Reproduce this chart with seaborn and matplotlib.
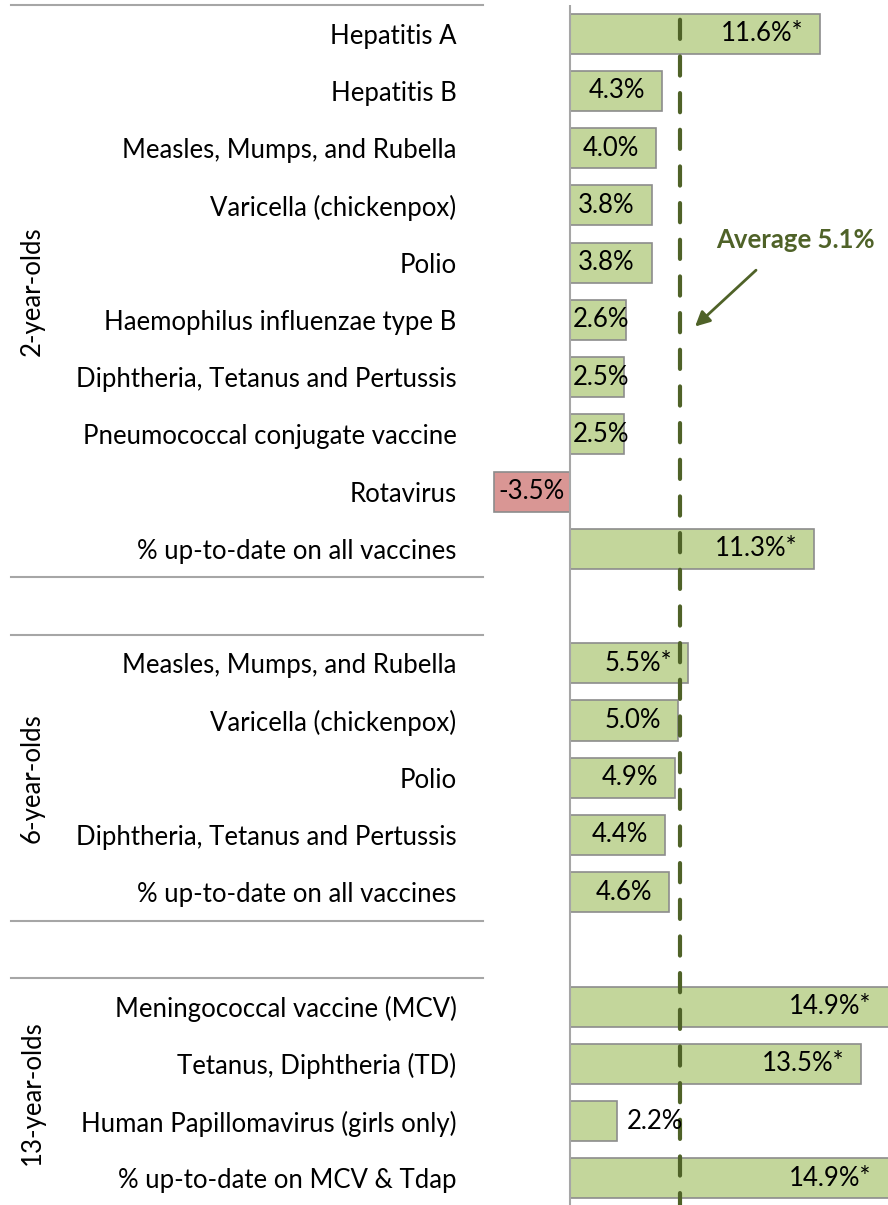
import numpy as np
import pandas as pd
import matplotlib
matplotlib.use("Agg")
import matplotlib.pyplot as plt
import matplotlib.transforms as mtransforms
import seaborn as sns

# --- data ---
groups = ["2-year-olds", "6-year-olds", "13-year-olds"]
vaccines_2yr = ["Hepatitis A", "Hepatitis B", "Measles, Mumps, and Rubella",
                "Varicella (chickenpox)", "Polio", "Haemophilus influenzae type B",
                "Diphtheria, Tetanus and Pertussis", "Pneumococcal conjugate vaccine",
                "Rotavirus", "% up-to-date on all vaccines"]
change_2yr = [11.6, 4.3, 4.0, 3.8, 3.8, 2.6, 2.5, 2.5, -3.5, 11.3]
signif_2yr = [True, False, False, False, False, False, False, False, False, True]

vaccines_6yr = ["Measles, Mumps, and Rubella", "Varicella (chickenpox)", "Polio",
                "Diphtheria, Tetanus and Pertussis", "% up-to-date on all vaccines"]
change_6yr = [5.5, 5.0, 4.9, 4.4, 4.6]
signif_6yr = [True, False, False, False, False]

vaccines_13yr = ["Meningococcal vaccine (MCV)", "Tetanus, Diphtheria (TD)",
                 "Human Papillomavirus (girls only)", "% up-to-date on MCV & Tdap"]
change_13yr = [14.9, 13.5, 2.2, 14.9]
signif_13yr = [True, True, False, True]

average = 5.1

plt.rcParams['font.family'] = ['Lato', 'DejaVu Sans']
plt.rcParams['font.size'] = 18.5

# build one row per bar, plus a blank spacer row between groups
rows = []
for g, names, vals, sig in [(groups[0], vaccines_2yr, change_2yr, signif_2yr),
                            (groups[1], vaccines_6yr, change_6yr, signif_6yr),
                            (groups[2], vaccines_13yr, change_13yr, signif_13yr)]:
    if rows:
        rows.append({"key": f"blank-{g}", "label": "", "group": None,
                     "value": np.nan, "sig": False, "sign": "pos"})
    for n, v, s in zip(names, vals, sig):
        rows.append({"key": f"{g}|{n}", "label": n, "group": g,
                     "value": v, "sig": s, "sign": "pos" if v >= 0 else "neg"})
df = pd.DataFrame(rows)
order = list(df["key"])

W, H, DPI = 888, 1205, 100
fig = plt.figure(figsize=(W / DPI, H / DPI), dpi=DPI)
x0_px, zero_px, scale = 483, 569.5, 21.6
n = len(order)
row_px = 57.24
top_px = 5
ax = fig.add_axes([x0_px / W, 1 - (top_px + n * row_px) / H,
                   1 - x0_px / W, n * row_px / H])

sns.barplot(data=df.dropna(subset=["value"]), x="value", y="key", hue="sign",
            order=order, orient="h", dodge=False, width=0.7, saturation=1,
            palette={"pos": "#c3d69b", "neg": "#d99694"},
            edgecolor="#8c8c8c", linewidth=1.2, legend=False, ax=ax)

xmax = (W - zero_px) / scale
ax.set_xlim(-(zero_px - x0_px) / scale, xmax)
ax.set_ylim(n - 0.5, -0.5)
for s in ax.spines.values():
    s.set_visible(False)
ax.set_xticks([])
ax.set_yticks(range(n))
ax.set_yticklabels(df["label"])
ax.tick_params(axis="y", length=0, pad=19)
ax.set_xlabel("")
ax.set_ylabel("")
ax.axvline(0, color="#a6a6a6", lw=1.5, zorder=1)

# average line
ax.axvline(average, color="#4f6228", lw=3, ls=(1.5, (4.6, 4.2)),
           dash_capstyle="round", zorder=3)

# value labels
for i, r in df.iterrows():
    if np.isnan(r["value"]):
        continue
    v = r["value"]
    txt = f"{v:.1f}%" + ("*" if r["sig"] else "")
    if v < 0:
        ax.text(v / 2, i, txt, ha="center", va="center", zorder=4)
    elif v < 2.4:
        ax.annotate(txt, (v, i), xytext=(7, 0), textcoords="offset points",
                    ha="left", va="center", zorder=4, annotation_clip=False)
    elif v < 3.2:
        ax.annotate(txt, (0, i), xytext=(2, 0), textcoords="offset points",
                    ha="left", va="center", zorder=4, annotation_clip=False)
    else:
        ax.annotate(txt, (min(v, xmax), i), xytext=(-12, 0),
                    textcoords="offset points", ha="right", va="center",
                    zorder=4, annotation_clip=False)

# group separators and rotated group labels
trans = mtransforms.blended_transform_factory(fig.transFigure, ax.transData)
keys = list(df["key"])
bounds = [-0.5]
for i, k in enumerate(keys):
    if k.startswith("blank"):
        bounds += [i - 0.5, i + 0.5]
bounds.append(n - 0.5)
for b in bounds:
    ax.plot([11 / W, x0_px / W], [b, b], transform=trans, color="#a6a6a6",
            lw=1.5, clip_on=False)
for g in groups:
    idx = df.index[df["group"] == g]
    ax.text(32 / W, (idx.min() + idx.max()) / 2, g, transform=trans,
            rotation=90, ha="center", va="center")

# average annotation
ax.annotate("", xy=(5.72, 5.15), xytext=(8.73, 4.1),
            arrowprops=dict(arrowstyle="-|>", color="#4f6228", lw=2,
                            mutation_scale=22))
ax.text(10.44, 3.6, f"Average {average}%", color="#4f6228",
        fontweight="bold", fontsize=18.5, ha="center", va="center")

fig.savefig("out.png", dpi=DPI)
